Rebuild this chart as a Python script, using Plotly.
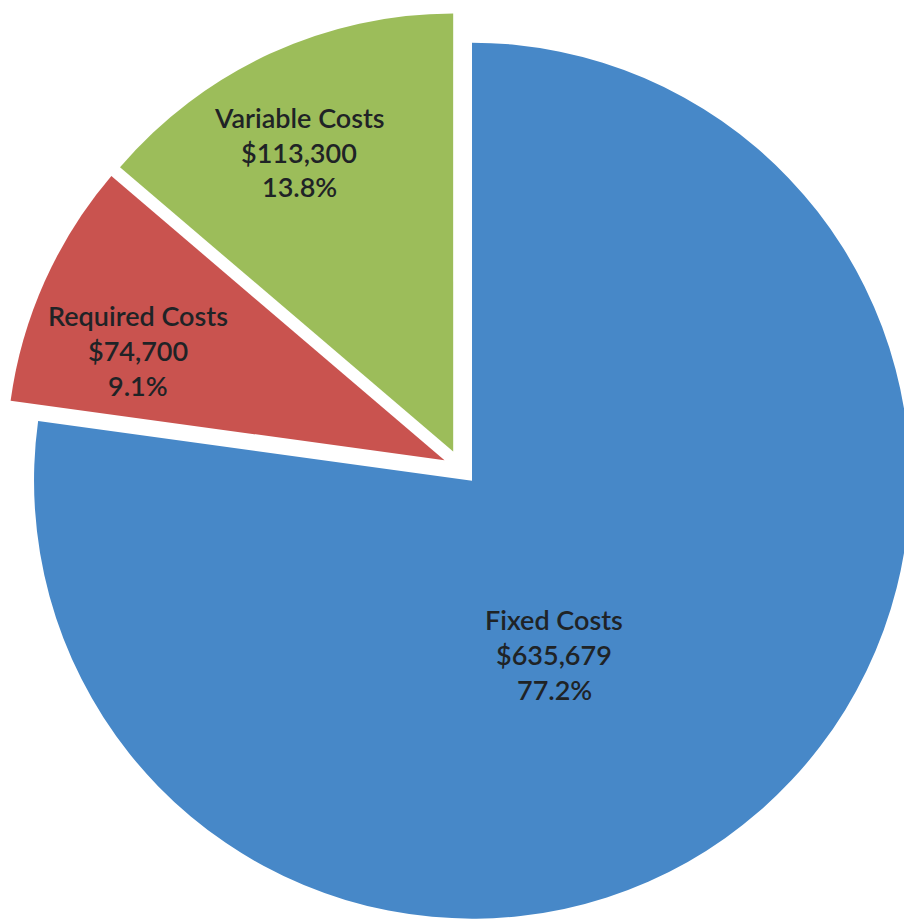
import plotly.graph_objects as go

# Cost breakdown
categories = ["Fixed Costs", "Required Costs", "Variable Costs"]
amounts = [635679, 74700, 113300]
slice_colors = ["#4788C8", "#C9534F", "#9CBD5A"]

total = sum(amounts)
percents = [a / total * 100 for a in amounts]

W, H = 916, 924
M = dict(l=5, r=0, t=12, b=1)
plot_w = W - M["l"] - M["r"]
plot_h = H - M["t"] - M["b"]

fig = go.Figure(
    go.Pie(
        labels=categories,
        values=amounts,
        sort=False,
        direction="clockwise",
        rotation=0,
        pull=[0.04, 0.04, 0.04],
        marker=dict(colors=slice_colors, line=dict(width=0)),
        textinfo="none",
        hoverinfo="label+value+percent",
        showlegend=False,
    )
)

# label block centres (pixels) for each slice
label_centres = [(554, 654), (138, 350), (299, 152)]
line_gap = 35


def to_paper(px, py):
    return (px - M["l"]) / plot_w, 1 - (py - M["t"]) / plot_h


annotations = []
for name, amt, pct, (cx, cy) in zip(categories, amounts, percents, label_centres):
    lines = [name, f"${amt:,.0f}", f"{pct:.1f}%"]
    for i, line in enumerate(lines):
        x, y = to_paper(cx, cy + (i - 1) * line_gap)
        annotations.append(
            dict(
                x=x, y=y, xref="paper", yref="paper",
                text=line, showarrow=False,
                xanchor="center", yanchor="middle",
                font=dict(family="Lato", size=27, color="#1f2326", weight=600),
            )
        )

fig.update_layout(
    width=W,
    height=H,
    margin=M,
    paper_bgcolor="white",
    plot_bgcolor="white",
    annotations=annotations,
)

fig.write_html(
    "out.html",
    post_script="document.documentElement.style.overflow='hidden';document.body.style.overflow='hidden';",
)
